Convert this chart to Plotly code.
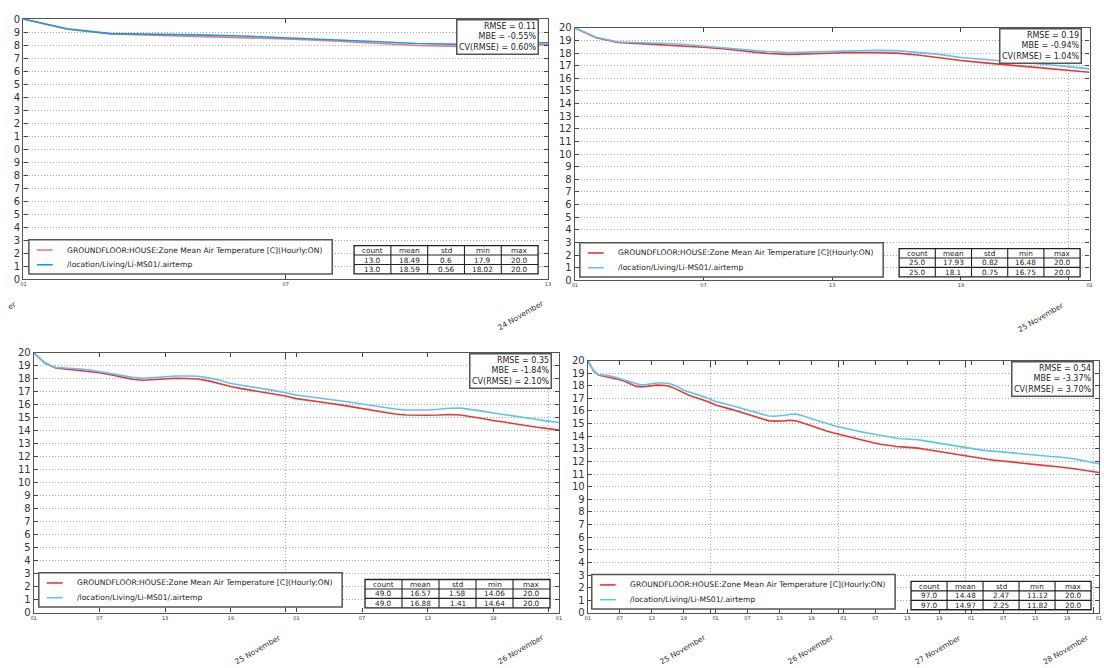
import pandas as pd
import plotly.graph_objects as go

W, H = 1104, 668
FONT = "DejaVu Sans"

# ---------------- data ----------------
times = pd.date_range("2014-11-24 01:00", periods=97, freq="h")

model = [
    20.0, 19.22, 18.85, 18.76, 18.68, 18.6, 18.47, 18.33, 18.15, 17.97,
    17.9, 17.95, 18.03, 18.05, 18.03, 18.0, 17.85, 17.63, 17.42, 17.25,
    17.1, 16.97, 16.84, 16.68, 16.48, 16.38, 16.26, 16.13, 16.0, 15.86,
    15.72, 15.58, 15.44, 15.3, 15.22, 15.2, 15.2, 15.22, 15.26, 15.22,
    15.1, 14.95, 14.8, 14.66, 14.52, 14.4, 14.28, 14.17, 14.06, 13.95,
    13.85, 13.75, 13.65, 13.55, 13.45, 13.37, 13.3, 13.24, 13.19, 13.16,
    13.14, 13.11, 13.06, 12.99, 12.92, 12.85, 12.77, 12.7, 12.62, 12.55,
    12.47, 12.4, 12.33, 12.27, 12.22, 12.17, 12.12, 12.07, 12.02, 11.97,
    11.92, 11.86, 11.81, 11.77, 11.73, 11.7, 11.67, 11.64, 11.6, 11.55,
    11.5, 11.44, 11.38, 11.32, 11.26, 11.19, 11.12,
]
measured = [
    20.0, 19.25, 18.88, 18.85, 18.78, 18.7, 18.57, 18.43, 18.27, 18.12,
    18.05, 18.1, 18.18, 18.22, 18.22, 18.2, 18.08, 17.9, 17.65, 17.52,
    17.4, 17.28, 17.1, 16.93, 16.75, 16.65, 16.55, 16.45, 16.33, 16.2,
    16.07, 15.94, 15.8, 15.68, 15.6, 15.58, 15.6, 15.66, 15.74, 15.75,
    15.66, 15.52, 15.38, 15.24, 15.1, 14.98, 14.87, 14.75, 14.64, 14.55,
    14.47, 14.38, 14.3, 14.22, 14.13, 14.05, 13.97, 13.9, 13.84, 13.8,
    13.78, 13.76, 13.72, 13.65, 13.58, 13.5, 13.42, 13.35, 13.28, 13.2,
    13.13, 13.07, 13.0, 12.95, 12.9, 12.86, 12.82, 12.78, 12.74, 12.7,
    12.65, 12.6, 12.55, 12.51, 12.47, 12.44, 12.42, 12.4, 12.38, 12.35,
    12.3, 12.23, 12.15, 12.07, 12.0, 11.92, 11.82,
]

model_label = "GROUNDFLOOR:HOUSE:Zone Mean Air Temperature [C](Hourly:ON)"
measured_label = "/location/Living/Li-MS01/.airtemp"

panel_counts = [13, 25, 49, 97]
rmse = ["0.11", "0.19", "0.35", "0.54"]
mbe = ["-0.55%", "-0.94%", "-1.84%", "-3.37%"]
cvrmse = ["0.60%", "1.04%", "2.10%", "3.70%"]

stat_cols = ["count", "mean", "std", "min", "max"]
model_stats = [
    ["13.0", "18.49", "0.6", "17.9", "20.0"],
    ["25.0", "17.93", "0.82", "16.48", "20.0"],
    ["49.0", "16.57", "1.58", "14.06", "20.0"],
    ["97.0", "14.48", "2.47", "11.12", "20.0"],
]
measured_stats = [
    ["13.0", "18.59", "0.56", "18.02", "20.0"],
    ["25.0", "18.1", "0.75", "16.75", "20.0"],
    ["49.0", "16.88", "1.41", "14.64", "20.0"],
    ["97.0", "14.97", "2.25", "11.82", "20.0"],
]

y_ticks = list(range(0, 21))

# ---------------- styling / layout (pixel boxes) ----------------
boxes = [  # left, right, top, bottom
    (20.5, 548.0, 13.3, 278.0),
    (575.0, 1092.5, 22.3, 279.3),
    (31.0, 559.0, 353.3, 617.7),
    (588.0, 1102.0, 361.0, 618.0),
]
stat_pos = [(539, 13), (1085, 22), (552, 353), (1097, 361)]
legend_box = [(26, 238), (580, 241), (36, 577), (592, 579)]
LEG_W, LEG_H = 305, 35
table_box = [(353, 538, 244), (901, 1083, 247), (364, 550, 584), (913, 1094, 586)]
ROW_H = 9.6
label_y = [295, 297, 635, 635]

red = ["#f07a7a", "#ee3535", "#ee3535", "#ee3535"]
blue = ["#1c98e4", "#5ec3ef", "#5ec3ef", "#5ec3ef"]

AX_COL = "#555555"
GRID_COL = "#a8a8a8"
TXT = "#222222"


def px_x(v):
    return v / W


def px_y(v):
    return 1 - v / H


fig = go.Figure()
annotations = []
shapes = []
layout = dict(
    width=W, height=H, margin=dict(l=0, r=0, t=0, b=0),
    paper_bgcolor="white", plot_bgcolor="white", showlegend=False,
    font=dict(family=FONT, color=TXT),
)


def text_ann(x, y, text, size, xanchor="center", yanchor="middle", **kw):
    d = dict(xref="paper", yref="paper", x=px_x(x), y=px_y(y), text=text,
             xanchor=xanchor, yanchor=yanchor, showarrow=False,
             font=dict(family=FONT, size=size, color=TXT))
    d.update(kw)
    annotations.append(d)


def line_shape(x0, y0, x1, y1, color, width):
    shapes.append(dict(type="line", xref="paper", yref="paper",
                       x0=px_x(x0), y0=px_y(y0), x1=px_x(x1), y1=px_y(y1),
                       line=dict(color=color, width=width)))


for i, n in enumerate(panel_counts):
    l, r, t, b = boxes[i]
    sfx = "" if i == 0 else str(i + 1)
    xs = times[:n]
    hour_ticks = [ts for ts in xs if ts.hour in (1, 7, 13, 19)]
    midnights = [ts for ts in xs if ts.hour == 0]

    fig.add_trace(go.Scatter(
        x=xs, y=model[:n], mode="lines", name=model_label,
        line=dict(color=red[i], width=1.6),
        xaxis="x" + sfx, yaxis="y" + sfx,
    ))
    fig.add_trace(go.Scatter(
        x=xs, y=measured[:n], mode="lines", name=measured_label,
        line=dict(color=blue[i], width=1.6),
        xaxis="x" + sfx, yaxis="y" + sfx,
    ))

    layout["xaxis" + sfx] = dict(
        domain=[px_x(l), px_x(r)], anchor="y" + sfx, type="date",
        range=[xs[0], xs[-1]], tickmode="array", tickvals=hour_ticks,
        tickformat="%H", tickfont=dict(size=5, color="#333"),
        ticks="inside", ticklen=4, tickcolor="#444", tickwidth=1,
        showline=True, linecolor=AX_COL, linewidth=1.3, mirror="ticks",
        showgrid=False, zeroline=False,
        minor=dict(tickmode="array", tickvals=midnights, showgrid=True,
                   gridcolor=GRID_COL, griddash="1px,2px", gridwidth=1,
                   ticks="inside", ticklen=6, tickcolor="#444"),
    )
    ytext = [str(v)[-1] for v in y_ticks] if i == 0 else [str(v) for v in y_ticks]
    layout["yaxis" + sfx] = dict(
        domain=[px_y(b), px_y(t)], anchor="x" + sfx, range=[0, 20],
        tickmode="array", tickvals=y_ticks, ticktext=ytext,
        tickfont=dict(size=10, color="#333"),
        ticks="inside", ticklen=4, tickcolor="#444",
        showline=True, linecolor=AX_COL, linewidth=1.3, mirror="ticks",
        showgrid=True, gridcolor=GRID_COL, griddash="1px,2px", gridwidth=1,
        zeroline=False,
    )

    # ---- legend box (drawn) ----
    lx, ly = legend_box[i]
    shapes.append(dict(type="rect", xref="paper", yref="paper",
                       x0=px_x(lx), x1=px_x(lx + LEG_W), y0=px_y(ly + LEG_H), y1=px_y(ly),
                       line=dict(color=AX_COL, width=1.5), fillcolor="white"))
    for k, (lab, col) in enumerate([(model_label, red[i]), (measured_label, blue[i])]):
        yy = ly + 10.5 + 15 * k
        line_shape(lx + 8, yy, lx + 24, yy, col, 1.6)
        text_ann(lx + 36, yy, lab, 7.6, xanchor="left")

    # ---- stats box ----
    sx, sy = stat_pos[i]
    annotations.append(dict(
        xref="paper", yref="paper", x=px_x(sx), y=px_y(sy),
        xanchor="right", yanchor="top", align="right", showarrow=False,
        text=f"RMSE = {rmse[i]}<br>MBE = {mbe[i]}<br>CV(RMSE) = {cvrmse[i]}",
        font=dict(family=FONT, size=8, color=TXT),
        bordercolor=AX_COL, borderwidth=1.5, borderpad=1.5, bgcolor="white",
    ))

    # ---- day labels at midnights ----
    for m in midnights:
        annotations.append(dict(
            xref="x" + sfx, yref="paper", x=m, y=px_y(label_y[i]),
            xanchor="right", yanchor="top", textangle=-30, showarrow=False,
            text=m.strftime("%d %B").lstrip("0"),
            font=dict(family=FONT, size=7.5, color="#333"),
        ))

    # ---- stats table (drawn) ----
    tl, tr, tt = table_box[i]
    cw = (tr - tl) / len(stat_cols)
    shapes.append(dict(type="rect", xref="paper", yref="paper",
                       x0=px_x(tl), x1=px_x(tr), y0=px_y(tt + 3 * ROW_H), y1=px_y(tt),
                       line=dict(color=TXT, width=1.3), fillcolor="white"))
    for k in (1, 2):
        line_shape(tl, tt + k * ROW_H, tr, tt + k * ROW_H, TXT, 1.1)
    for c in range(1, len(stat_cols)):
        line_shape(tl + c * cw, tt, tl + c * cw, tt + 3 * ROW_H, TXT, 1.1)
    rows = [stat_cols, model_stats[i], measured_stats[i]]
    for rr, row in enumerate(rows):
        for c, val in enumerate(row):
            text_ann(tl + (c + 0.5) * cw, tt + (rr + 0.5) * ROW_H + 0.3, val, 7.3)

# panel 1 day labels (the view shows the end of the range; left one is cropped)
annotations.append(dict(
    xref="x", yref="paper", x=times[panel_counts[0] - 1], y=px_y(label_y[0]),
    xanchor="right", yanchor="top", textangle=-30, showarrow=False,
    text=times[0].strftime("%d %B"),
    font=dict(family=FONT, size=7.5, color="#333"),
))
annotations.append(dict(
    xref="paper", yref="paper", x=px_x(18), y=px_y(296),
    xanchor="right", yanchor="top", textangle=-30, showarrow=False,
    text="er", font=dict(family=FONT, size=7.5, color="#333"),
))

layout["annotations"] = annotations
layout["shapes"] = shapes
fig.update_layout(**layout)
fig.write_html("out.html")
